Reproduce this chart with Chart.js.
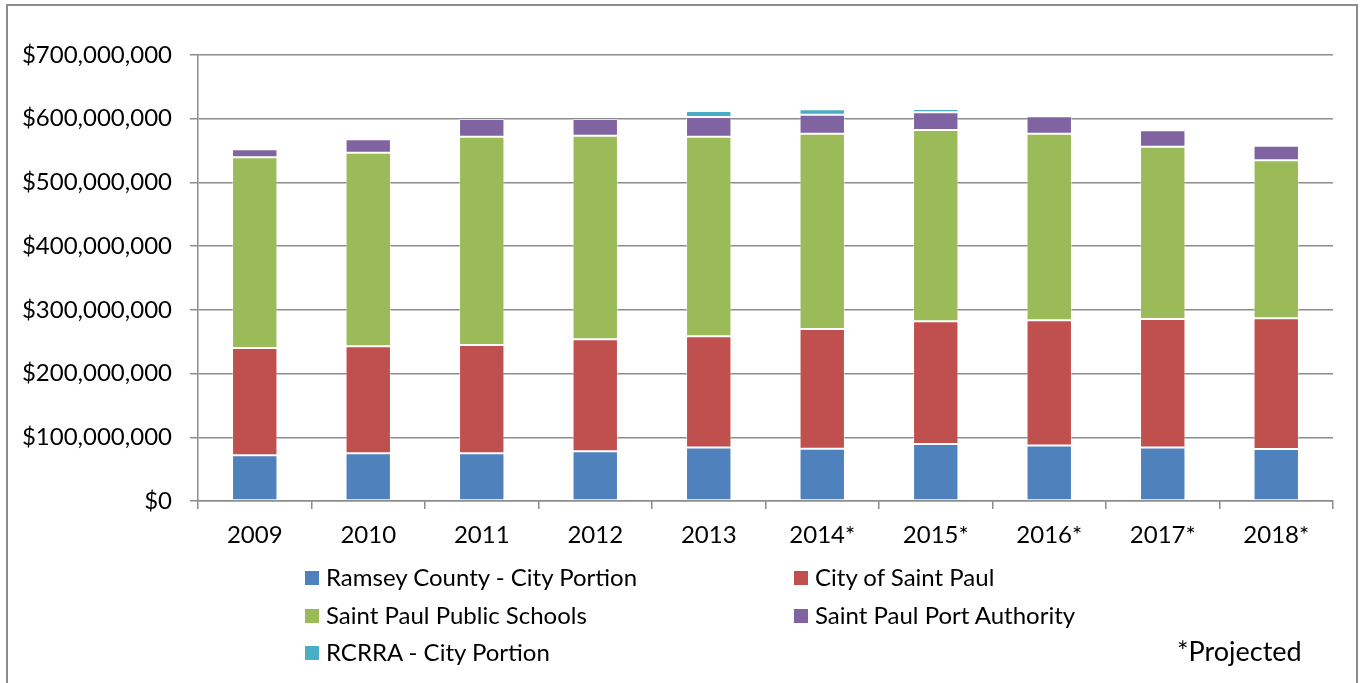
<!DOCTYPE html>
<html>
<head>
<meta charset="utf-8">
<script src="https://cdn.jsdelivr.net/npm/chart.js@4"></script>
<style>
  html, body { margin: 0; padding: 0; background: #fff; }
  #wrap { position: relative; width: 1364px; height: 683px; overflow: hidden; font-family: Lato, "Noto Sans", sans-serif; }
  #frame { position: absolute; left: 6px; top: 4px; width: 1352px; height: 700px; border: 2px solid #8c8c8c; box-sizing: border-box; }
  canvas { position: absolute; left: 0; top: 0; }
  .lg { position: absolute; font-size: 24px; color: #000; white-space: nowrap; line-height: 24px; }
  .sw { position: absolute; width: 14px; height: 14px; }
  #proj { position: absolute; left: 1177px; top: 637px; font-size: 27px; line-height: 27px; }
</style>
</head>
<body>
<div id="wrap">
  <div id="frame"></div>
  <canvas id="c" width="1364" height="683"></canvas>
  <div id="legend"></div>
  <div id="proj" class="lg">*Projected</div>
</div>
<script>
const categories = ["2009","2010","2011","2012","2013","2014*","2015*","2016*","2017*","2018*"];
const seriesNames = ["Ramsey County - City Portion","City of Saint Paul","Saint Paul Public Schools","Saint Paul Port Authority","RCRRA - City Portion"];
const ramseyCounty = [72e6, 75e6, 75e6, 78e6, 84e6, 82e6, 89.5e6, 87e6, 84e6, 81.5e6];
const cityOfSaintPaul = [168e6, 168e6, 170e6, 176e6, 174.5e6, 188e6, 192.5e6, 196.6e6, 201.7e6, 205.5e6];
const publicSchools = [299.5e6, 303.7e6, 326.8e6, 319.4e6, 313.3e6, 306.5e6, 300.3e6, 292.9e6, 270.3e6, 247.8e6];
const portAuthority = [12.5e6, 21e6, 27.8e6, 26.2e6, 30.9e6, 29.9e6, 27.7e6, 27.3e6, 25.8e6, 22.9e6];
const rcrra = [0, 0, 0, 0, 9.3e6, 8.4e6, 5.3e6, 1.6e6, 0, 0];
const yTicks = [0, 100e6, 200e6, 300e6, 400e6, 500e6, 600e6, 700e6];
const colors = ["#4F81BD","#C0504D","#9BBB59","#8064A2","#4BACC6"];

const seriesValues = [ramseyCounty, cityOfSaintPaul, publicSchools, portAuthority, rcrra];
const datasets = seriesNames.map((n, i) => ({
  label: n,
  data: seriesValues[i],
  backgroundColor: colors[i],
  borderColor: 'rgba(255,255,255,0.45)',
  borderWidth: 1,
  borderSkipped: false,
  categoryPercentage: 1.0,
  barPercentage: 0.4
}));

const FONT = "Lato, 'Noto Sans', sans-serif";
new Chart(document.getElementById('c'), {
  type: 'bar',
  data: { labels: categories, datasets },
  options: {
    responsive: false,
    animation: false,
    layout: { padding: { left: 0, top: 55, right: 31, bottom: 122 } },
    plugins: { legend: { display: false }, tooltip: { enabled: false } },
    scales: {
      x: {
        stacked: true,
        grid: { display: true, drawOnChartArea: false, drawTicks: true, tickLength: 8, offset: true, color: '#8c8c8c', lineWidth: 1.5 },
        border: { display: true, color: '#8c8c8c', width: 1.5 },
        ticks: { color: '#000', font: { family: FONT, size: 24 }, padding: 12 },
        afterFit: s => { s.height = 60; }
      },
      y: {
        stacked: true,
        min: 0, max: 700e6,
        afterBuildTicks: s => { s.ticks = yTicks.map(v => ({ value: v })); },
        grid: { color: '#8c8c8c', lineWidth: 1.5, drawTicks: true, tickLength: 8 },
        border: { display: true, color: '#8c8c8c', width: 1.5 },
        ticks: {
          color: '#000', font: { family: FONT, size: 24 }, padding: 18,
          callback: v => '$' + Number(v).toLocaleString('en-US')
        },
        afterFit: s => { s.width = 198; }
      }
    }
  }
});

// HTML legend laid out in two columns, built from series names and colours
const legendPos = [[305, 578], [794, 578], [305, 616], [794, 616], [305, 653]];
const lg = document.getElementById('legend');
seriesNames.forEach((n, i) => {
  const [x, y] = legendPos[i];
  const sw = document.createElement('div');
  sw.className = 'sw';
  sw.style.left = x + 'px'; sw.style.top = (y - 7) + 'px'; sw.style.background = colors[i];
  lg.appendChild(sw);
  const t = document.createElement('div');
  t.className = 'lg';
  t.textContent = n;
  t.style.left = (x + 21) + 'px'; t.style.top = (y - 13) + 'px';
  lg.appendChild(t);
});
</script>
</body>
</html>
